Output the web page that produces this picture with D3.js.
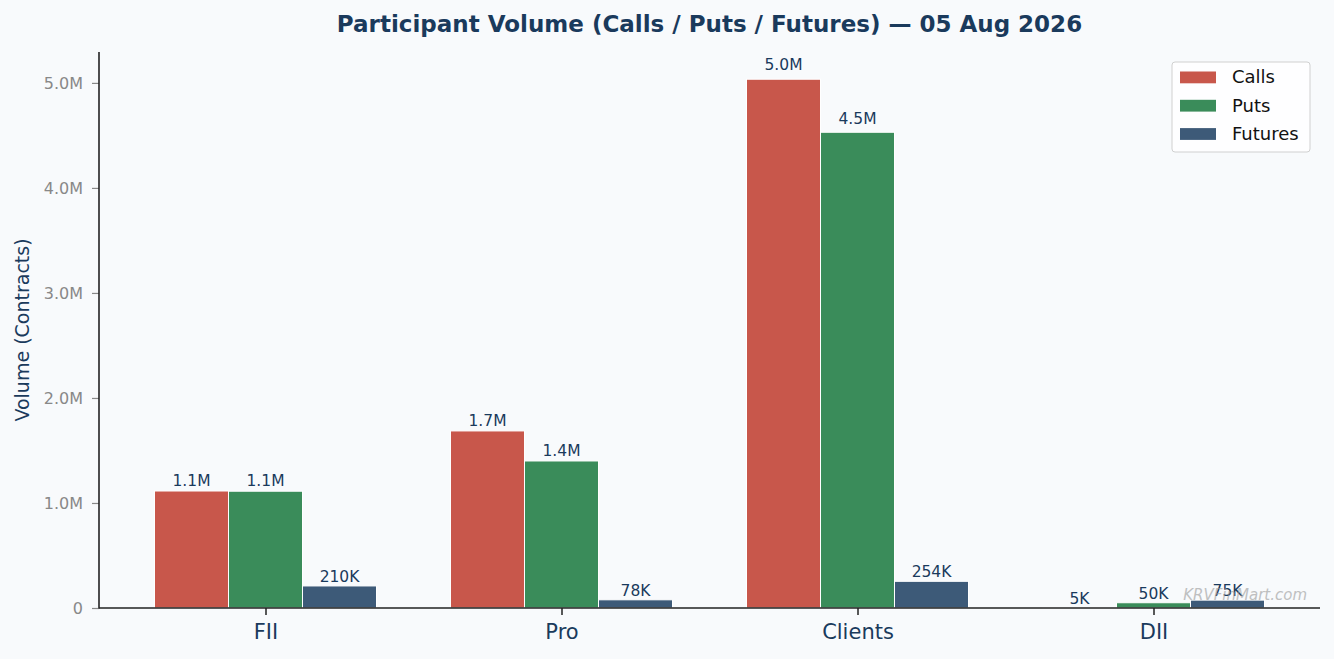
<!DOCTYPE html>
<html><head><meta charset="utf-8">
<script src="https://cdn.jsdelivr.net/npm/d3@7"></script>
<style>
html,body{margin:0;padding:0;background:#f8fafc;}
svg{display:block;font-family:"DejaVu Sans",sans-serif;}
</style></head>
<body>
<svg id="chart" width="1334" height="659"></svg>
<script>
const categories = ["FII", "Pro", "Clients", "DII"];
const seriesNames = ["Calls", "Puts", "Futures"];
const callsValues = [1114000, 1686000, 5035000, 5000];
const putsValues = [1112000, 1400000, 4530000, 50000];
const futuresValues = [210000, 78000, 254000, 75000];
const yTickValues = [0, 1000000, 2000000, 3000000, 4000000, 5000000];
const yTickLabels = ["0", "1.0M", "2.0M", "3.0M", "4.0M", "5.0M"];
const seriesColors = ["#c8574b", "#3a8c5a", "#3d5a78"];

const series = [callsValues, putsValues, futuresValues];
const W = 1334, H = 659;
const m = {left: 99, right: 1320, top: 52, bottom: 608};
const svg = d3.select("#chart");
svg.append("rect").attr("width", W).attr("height", H).attr("fill", "#f8fafc");

const maxV = d3.max(series.flat());
const y = d3.scaleLinear().domain([0, maxV * 1.0515]).range([m.bottom, m.top]);
const x = d3.scaleLinear().domain([-0.5625, categories.length - 1 + 0.5625]).range([m.left, m.right]);
const barW = 0.25;

function fmt(v) {
  if (v >= 1e6) return (v / 1e6).toFixed(1) + "M";
  return Math.round(v / 1e3) + "K";
}

const g = svg.append("g");
series.forEach((vals, si) => {
  const off = (si - 1) * barW;
  g.selectAll(null).data(vals).enter().append("rect")
    .attr("x", (d, i) => x(i + off - barW / 2))
    .attr("width", (d, i) => x(i + off + barW / 2) - x(i + off - barW / 2))
    .attr("y", d => y(d))
    .attr("height", d => y(0) - y(d))
    .attr("fill", seriesColors[si])
    .attr("stroke", "#ffffff").attr("stroke-width", 1);
  g.selectAll(null).data(vals).enter().append("text")
    .attr("x", (d, i) => x(i + off))
    .attr("y", d => y(d * 1.01) - 3.6)
    .attr("text-anchor", "middle")
    .attr("font-size", 15.5)
    .attr("fill", "#1a3a5c")
    .text(d => fmt(d));
});

// axes
const yAxis = svg.append("g").attr("transform", `translate(${m.left},0)`)
  .call(d3.axisLeft(y).tickValues(yTickValues).tickFormat((d, i) => yTickLabels[i]).tickSize(7).tickPadding(9));
yAxis.select(".domain").remove();
yAxis.selectAll(".tick line").attr("stroke", "#888").attr("stroke-width", 1.2);
yAxis.selectAll(".tick text").attr("fill", "#888").attr("font-size", 16).attr("font-family", "DejaVu Sans");

const xAxis = svg.append("g").attr("transform", `translate(0,${m.bottom})`)
  .call(d3.axisBottom(x).tickValues(d3.range(categories.length)).tickFormat((d) => categories[d]).tickSize(7).tickPadding(9));
xAxis.select(".domain").remove();
xAxis.selectAll(".tick line").attr("stroke", "#222").attr("stroke-width", 1.5);
xAxis.selectAll(".tick text").attr("fill", "#1a3a5c").attr("font-size", 21).attr("font-family", "DejaVu Sans");

svg.append("line").attr("x1", m.left).attr("x2", m.left).attr("y1", m.top).attr("y2", m.bottom + 0.5)
  .attr("stroke", "#222").attr("stroke-width", 1.6);
svg.append("line").attr("x1", m.left).attr("x2", m.right).attr("y1", m.bottom).attr("y2", m.bottom)
  .attr("stroke", "#222").attr("stroke-width", 1.6);

// title
svg.append("text").attr("x", (m.left + m.right) / 2).attr("y", 32)
  .attr("text-anchor", "middle").attr("font-size", 23).attr("font-weight", "bold")
  .attr("fill", "#1a3a5c").text("Participant Volume (Calls / Puts / Futures) — 05 Aug 2026");

// y label
svg.append("text").attr("transform", `translate(29,${(m.top + m.bottom) / 2}) rotate(-90)`)
  .attr("text-anchor", "middle").attr("font-size", 19).attr("fill", "#1a3a5c")
  .text("Volume (Contracts)");

// watermark
svg.append("text").attr("x", 1307).attr("y", 600).attr("text-anchor", "end")
  .attr("font-size", 15).attr("font-style", "italic").attr("fill", "#999").attr("opacity", 0.6)
  .text("KRVFinMart.com");

// legend
const lg = svg.append("g");
lg.append("rect").attr("x", 1172).attr("y", 62).attr("width", 138).attr("height", 90).attr("rx", 3)
  .attr("fill", "#ffffff").attr("fill-opacity", 0.8).attr("stroke", "#d0d0d0").attr("stroke-width", 1);
seriesNames.forEach((n, i) => {
  const base = 83.3 + i * 28.3;
  lg.append("rect").attr("x", 1180).attr("y", base - 11.8).attr("width", 36).attr("height", 11.8).attr("fill", seriesColors[i]);
  lg.append("text").attr("x", 1232).attr("y", base).attr("font-size", 18).attr("fill", "#111").text(n);
});
</script>
</body></html>
